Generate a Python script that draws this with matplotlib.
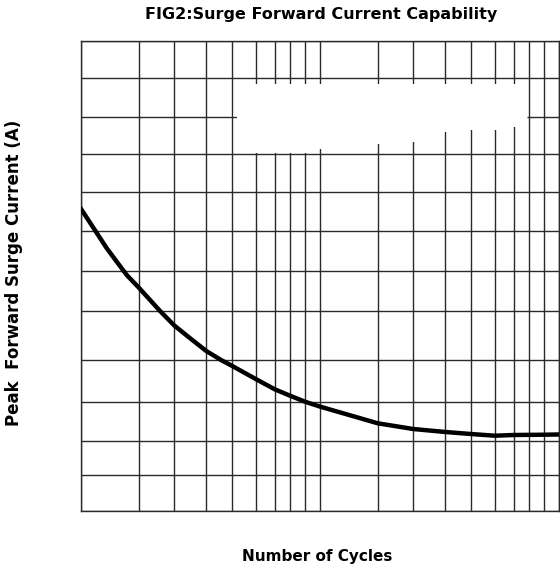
import matplotlib
matplotlib.use('Agg')
import matplotlib.pyplot as plt
import numpy as np

plt.rcParams['font.family'] = ['DejaVu Sans']

# printed log-paper grid: cycle values of the vertical lines and where the
# figure actually draws them (the paper is not a true log scale)
cycles_grid = [1, 2, 3, 4, 5, 6, 7, 8, 9, 10, 20, 30, 40, 50, 60, 70, 80, 90, 100]
cycles_drawn = [81.3, 138.7, 174.3, 206.3, 232.3, 255.7, 274.7, 290, 305, 320.3,
                377.7, 413, 445.3, 471, 494.7, 513.7, 529, 544.3, 559]

# horizontal grid levels (current, arbitrary units 0-100)
current_grid = [0, 7.65, 14.82, 23.18, 32.04, 42.53, 51.09, 59.60, 67.83,
                75.84, 83.84, 92.07, 100]

# surge curve
cycles = [1, 1.36, 1.73, 2, 2.55, 3, 3.5, 4, 4.56, 5, 6, 7, 8, 9, 10, 20, 30, 40, 50, 60, 70, 90, 100]
surge = [64.15, 55.86, 50.18, 47.52, 42.53, 39.44, 36.5, 34.02, 32.04, 30.83, 28.07, 25.88,
         24.52, 23.24, 22.18, 18.65, 17.44, 16.80, 16.37, 16.01, 16.16, 16.22, 16.27]

lg = np.log10(cycles_grid)


def fwd(x):
    x = np.clip(np.asarray(x, dtype=float), 1e-6, None)
    return np.interp(np.log10(x), lg, cycles_drawn)


def inv(v):
    return 10 ** np.interp(v, cycles_drawn, lg)


fig = plt.figure(figsize=(5.6, 5.69), dpi=100)
ax = fig.add_axes([81.3 / 560, 1 - 511 / 569, (559 - 81.3) / 560, (511 - 40.7) / 569])
ax.set_xscale('function', functions=(fwd, inv))
ax.set_xlim(1, 100)
ax.set_ylim(0, 100)

for c in cycles_grid:
    ax.axvline(c, color='#2a2a2a', lw=1.0, zorder=1)
for g in current_grid:
    ax.axhline(g, color='#2a2a2a', lw=1.0, zorder=1)

# blank patch left in the upper part of the grid (removed legend)
px = [237, 527.5, 527.5, 505, 504, 455, 450, 430, 428, 395, 394, 350, 349, 313, 312, 237]
py = [84, 84, 127, 127, 130, 130, 132, 132, 142, 142, 144, 144, 149, 149, 153, 153]
bx = [(p - 81.3) / (559 - 81.3) for p in px]
by = [(511 - p) / (511 - 40.7) for p in py]
ax.fill(bx, by, color='white', transform=ax.transAxes, zorder=2, lw=0)

ax.plot(cycles, surge, color='black', lw=3.2, solid_joinstyle='round', zorder=3)

ax.set_xticks([])
ax.set_yticks([])
ax.minorticks_off()
for s in ax.spines.values():
    s.set_color('#2a2a2a')
    s.set_linewidth(1.0)

fig.text(321.5 / 560, 1 - 14 / 569, 'FIG2:Surge Forward Current Capability',
         ha='center', va='center', fontsize=11.5, fontweight='bold')
fig.text(14 / 560, 1 - 273 / 569, 'Peak  Forward Surge Current (A)',
         ha='center', va='center', rotation=90, fontsize=12, fontweight='bold')
fig.text(317.5 / 560, 1 - 557 / 569, 'Number of Cycles',
         ha='center', va='center', fontsize=11, fontweight='bold')

fig.savefig('out.png', dpi=100)
